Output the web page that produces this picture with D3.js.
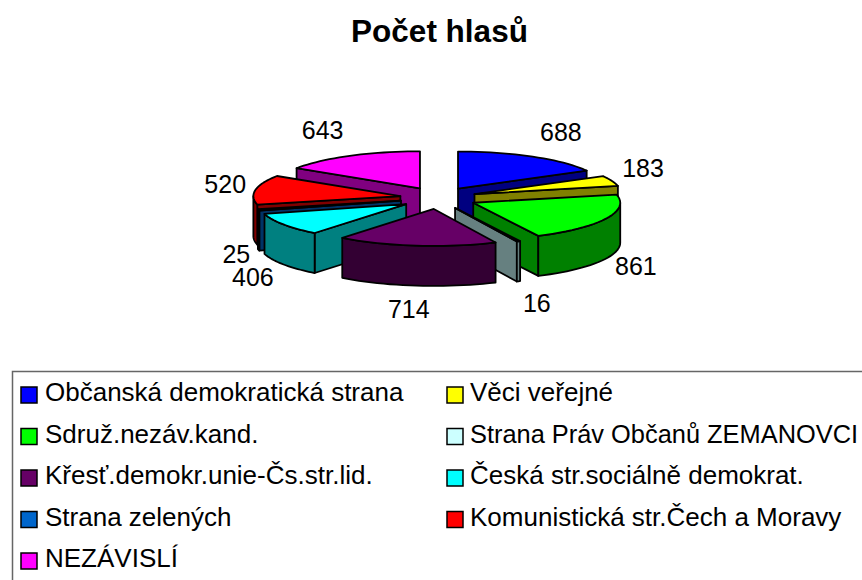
<!DOCTYPE html>
<html><head><meta charset="utf-8">
<script src="https://cdn.jsdelivr.net/npm/d3@7/dist/d3.min.js"></script>
<style>html,body{margin:0;padding:0;background:#fff}svg{display:block}text{font-family:"Liberation Sans",Arial,sans-serif;fill:#000}</style>
</head><body><svg id="c" width="862" height="580"></svg>
<script>
const title = "Počet hlasů";
const categories = ["Občanská demokratická strana","Věci veřejné","Sdruž.nezáv.kand.","Strana Práv Občanů ZEMANOVCI","Křesť.demokr.unie-Čs.str.lid.","Česká str.sociálně demokrat.","Strana zelených","Komunistická str.Čech a Moravy","NEZÁVISLÍ"];
const values = [688,183,861,16,714,406,25,520,643];
const colors = ["#0000ff","#ffff00","#00ff00","#ccffff","#660066","#00ffff","#0066cc","#ff0000","#ff00ff"];

// layout only
const W=862,H=580, cx=438.4, cy=198, rx=147, ry=37, depth=40, exX=38.6, exY=11;
const labelNudge=[[26,-23],[27,-12],[26,46],[16.5,60],[-7,61],[-27,51],[-18,44],[-26,-5],[-25,-24]];
const paintOrder=[8,0,1,7,6,2,3,5,4];

const svg=d3.select("#c");
const arcs=d3.pie().sort(null).value(d=>d).startAngle(0).endAngle(2*Math.PI)(values);
const shade=c=>{const k=d3.rgb(c);return d3.rgb(k.r*.5,k.g*.5,k.b*.5).formatHex();};
const line=d3.line();
const stroke=g=>g.attr("stroke","#000").attr("stroke-width",1.8).attr("stroke-linejoin","round");

paintOrder.forEach(i=>{
  const a=arcs[i], mid=(a.startAngle+a.endAngle)/2;
  const ox=cx+exX*Math.sin(mid), oy=cy-exY*Math.cos(mid);
  const pt=t=>[ox+rx*Math.sin(t),oy-ry*Math.cos(t)];
  const rim=(t0,t1)=>d3.range(0,25).map(k=>pt(t0+(t1-t0)*k/24));
  const g=svg.append("g");
  const down=p=>[p[0],p[1]+depth];
  const wall=c=>g.append("path").attr("fill",shade(colors[i])).call(stroke).attr("d",c);
  const cut=t=>{const p=pt(t);return line([[ox,oy],p,down(p),[ox,oy+depth]])+"Z";};
  if(Math.sin(a.startAngle)<0) wall(cut(a.startAngle));
  if(Math.sin(a.endAngle)>0) wall(cut(a.endAngle));
  const lo=Math.max(a.startAngle,Math.PI/2), hi=Math.min(a.endAngle,3*Math.PI/2);
  if(hi>lo){const r=rim(lo,hi);wall(line(r.concat(r.slice().reverse().map(down)))+"Z");}
  g.append("path").attr("fill",colors[i]).call(stroke)
    .attr("d",line([[ox,oy]].concat(rim(a.startAngle,a.endAngle)))+"Z");
});

svg.append("text").attr("x",439.5).attr("y",42).attr("text-anchor","middle")
  .attr("font-size",31.5).attr("font-weight","bold").text(title);

svg.append("g").selectAll("text").data(arcs).join("text")
  .attr("font-size",25).attr("text-anchor","middle").attr("dominant-baseline","central")
  .attr("x",(d,i)=>cx+190*Math.sin((d.startAngle+d.endAngle)/2)+labelNudge[i][0])
  .attr("y",(d,i)=>cy-50*Math.cos((d.startAngle+d.endAngle)/2)+labelNudge[i][1])
  .text(d=>d.value);

// legend frame runs off the right and bottom of the picture
svg.append("path").attr("fill","none").attr("stroke","#666").attr("stroke-width",1.5)
  .attr("d",`M${W},371.5H12.5V${H}`);
const col=d3.scalePoint().domain([0,1]).range([21,447]);
const row=d3.scalePoint().domain(d3.range(5)).range([395,561]);
const items=svg.append("g").selectAll("g").data(categories).join("g")
  .attr("transform",(d,i)=>`translate(${col(i%2)},${row(Math.floor(i/2))})`);
items.append("rect").attr("y",-8).attr("width",16).attr("height",16)
  .attr("fill",(d,i)=>colors[i]).attr("stroke","#000").attr("stroke-width",1.5);
items.append("text").attr("x",(d,i)=>i%2?23:24).attr("y",6)
  .attr("font-size",(d,i)=>i===3?25.4:26).text(d=>d);
</script></body></html>
